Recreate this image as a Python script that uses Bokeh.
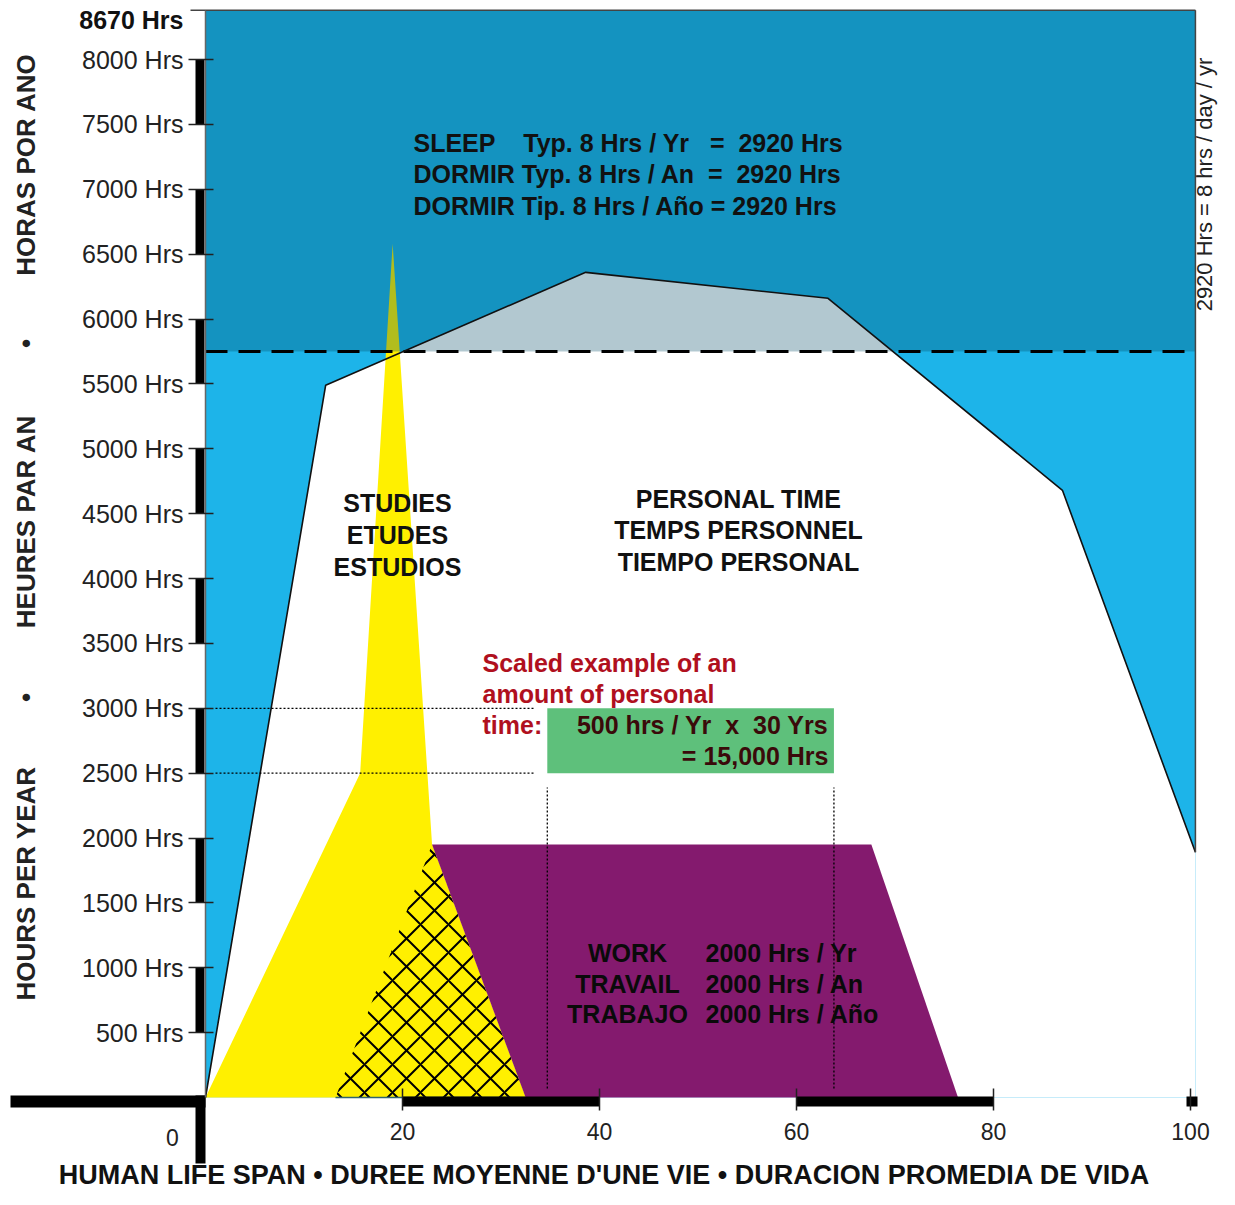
import numpy as np
from bokeh.plotting import figure
from bokeh.models import Range1d, LinearAxis, FixedTicker, PrintfTickFormatter
from bokeh.core.properties import value
from bokeh.embed import file_html
from bokeh.resources import INLINE

# ---------------- data ----------------
awake_age = [0, 12.2, 38.6, 63.2, 87.0, 100.5]
awake_hours = [0, 5490, 6360, 6160, 4680, 1890]

year_hours = 8670
sleep_hours = 2920
sleep_floor = year_hours - sleep_hours          # 5750

study_age = [0, 15.7, 19.0, 23.0, 32.5]
study_hours = [0, 2500, 6580, 1950, 0]

shared_age = [13.2, 23.0, 32.5]                 # studies + work overlap (hatched)
shared_hours = [0, 1950, 0]

work_age = [23.0, 67.6, 76.4, 32.5]
work_hours = [1950, 1950, 0, 0]

example_age = [34.7, 63.8]                      # 30 years
example_hours = [2500, 3000]                    # 500 hrs / yr

y_ticks = [500, 1000, 1500, 2000, 2500, 3000, 3500, 4000,
           4500, 5000, 5500, 6000, 6500, 7000, 7500, 8000]
x_ticks = [20, 40, 60, 80, 100]

chart_right = 100.5
chart_top = 8380

# ---------------- layout helpers (picture pixels -> data) ----------------
X0_PX, PX_PER_YEAR = 205.0, 9.85
Y0_PX, PX_PER_HOUR = 1097.0, 0.12974


def px_x(px):
    return (px - X0_PX) / PX_PER_YEAR


def px_y(py):
    return (Y0_PX - py) / PX_PER_HOUR


LIGHT_BLUE = "#1DB4E9"
SLEEP_TINT = "#004862"
YELLOW = "#FFF000"
PURPLE = "#841A6E"
GREEN = "#5EC07B"
RED = "#B0101E"
FONT = value("Liberation Sans")
NB = "\u00a0"

W, H = 1219, 1189
p = figure(width=W, height=H, output_backend="svg", toolbar_location=None,
           x_range=Range1d(px_x(0), px_x(W)), y_range=Range1d(px_y(H), px_y(0)),
           x_axis_type=None, y_axis_type=None, min_border=0)
p.outline_line_color = None
p.grid.visible = False
p.background_fill_color = "white"
p.border_fill_color = "white"

# background of the year box (awake, not used)
p.quad(left=0, right=chart_right, bottom=0, top=chart_top, fill_color=LIGHT_BLUE, line_color=None)

# personal-time area under the awake curve
p.patch(awake_age + [chart_right], awake_hours + [0], fill_color="white", line_color=None)

# studies
p.patch(study_age, study_hours, fill_color=YELLOW, line_color=None)
p.patch(shared_age, shared_hours, fill_color=YELLOW, line_color=None,
        hatch_pattern="x", hatch_color="black", hatch_weight=2, hatch_scale=28)
p.line([shared_age[0], shared_age[-1]], [0, 0], line_color="#2F6470", line_width=1.5)

# work
p.patch(work_age, work_hours, fill_color=PURPLE, line_color=None)

# sleep band (semi-transparent tint over everything below)
p.quad(left=0, right=chart_right, bottom=sleep_floor, top=chart_top,
       fill_color=SLEEP_TINT, fill_alpha=0.3, line_color=None)
p.line([0, chart_right], [sleep_floor, sleep_floor], line_color="black", line_width=3,
       line_dash="22 11")

# awake curve outline and box borders
p.line(awake_age, awake_hours, line_color="#111111", line_width=1.6)
p.line([chart_right, chart_right], [awake_hours[-1], chart_top], line_color="#444444", line_width=1.5)
p.line([px_x(190), chart_right], [chart_top, chart_top], line_color="#444444", line_width=1.5)

# scaled example
p.quad(left=example_age[0], right=example_age[1], bottom=example_hours[0], top=example_hours[1],
       fill_color=GREEN, line_color=None)
p.segment(x0=[px_x(215)] * 2, x1=[px_x(533)] * 2, y0=example_hours, y1=example_hours,
          line_color="black", line_width=1.2, line_dash="2 2")
p.segment(x0=example_age, x1=example_age, y0=[px_y(1088)] * 2, y1=[px_y(787)] * 2,
          line_color="black", line_width=1.3, line_dash="2 2")

# ---------------- axes ----------------
yax = LinearAxis(fixed_location=0, ticker=FixedTicker(ticks=y_ticks),
                 formatter=PrintfTickFormatter(format="%d Hrs"), bounds=(0, chart_top))
yax.axis_line_color = "#666666"
yax.axis_line_width = 1.5
yax.major_tick_in = 8
yax.major_tick_out = 17
yax.major_tick_line_color = "#222222"
yax.major_tick_line_width = 1.5
yax.minor_tick_line_color = None
yax.major_label_standoff = 5
yax.major_label_text_font = "Liberation Sans"
yax.major_label_text_font_size = "25px"
yax.major_label_text_color = "#222222"
p.add_layout(yax, "left")

xax = LinearAxis(fixed_location=0, ticker=FixedTicker(ticks=x_ticks))
xax.axis_line_color = None
xax.major_tick_in = 9
xax.major_tick_out = 13
xax.major_tick_line_color = "#222222"
xax.major_tick_line_width = 1.5
xax.minor_tick_line_color = None
xax.major_label_standoff = 12
xax.major_label_text_font = "Liberation Sans"
xax.major_label_text_font_size = "23px"
xax.major_label_text_color = "#222222"
p.add_layout(xax, "below")

# alternating scale bars along the axes
bar_lo = y_ticks[0::2]
bar_hi = y_ticks[1::2]
p.segment(x0=[px_x(199.5)] * len(bar_lo), x1=[px_x(199.5)] * len(bar_lo), y0=bar_lo, y1=bar_hi,
          line_color="black", line_width=9, line_cap="butt")
p.segment(x0=[px_x(10), x_ticks[0], x_ticks[2], px_x(1186)],
          x1=[0, x_ticks[1], x_ticks[3], px_x(1197)],
          y0=[px_y(1101)] * 4, y1=[px_y(1101)] * 4,
          line_color="black", line_width=[12, 10, 10, 10], line_cap="butt")
p.segment(x0=[px_x(200)], x1=[px_x(200)], y0=[px_y(1095)], y1=[px_y(1163)],
          line_color="black", line_width=10, line_cap="butt")


# ---------------- texts ----------------
def add_text(xs, ys, texts, size="25px", bold=True, color="#111111", align="left", angle=0.0):
    p.text(x=xs, y=ys, text=texts, text_font=FONT, text_font_size=size,
           text_font_style="bold" if bold else "normal", text_color=color,
           text_align=align, text_baseline="middle", angle=angle)


add_text([px_x(183)], [px_y(19)], ["8670 Hrs"], size="25px", align="right")
add_text([px_x(172)], [px_y(1137)], ["0"], size="23px", bold=False, color="#222222", align="center")

sleep_lines = [
    "SLEEP" + NB * 4 + "Typ. 8 Hrs / Yr" + NB * 3 + "=" + NB * 2 + "2920 Hrs",
    "DORMIR Typ. 8 Hrs / An" + NB * 2 + "=" + NB * 2 + "2920 Hrs",
    "DORMIR Tip. 8 Hrs / Año = 2920 Hrs",
]
add_text([px_x(413)] * 3, [px_y(142), px_y(173), px_y(205)], sleep_lines)

add_text([px_x(397)] * 3, [px_y(502), px_y(534), px_y(566)],
         ["STUDIES", "ETUDES", "ESTUDIOS"], align="center")
add_text([px_x(738)] * 3, [px_y(498), px_y(529), px_y(561)],
         ["PERSONAL TIME", "TEMPS PERSONNEL", "TIEMPO PERSONAL"], align="center")

add_text([px_x(482)] * 3, [px_y(662), px_y(693), px_y(724)],
         ["Scaled example of an", "amount of personal", "time:"], color=RED)
add_text([px_x(828)] * 2, [px_y(724), px_y(755)],
         ["500 hrs / Yr" + NB * 2 + "x" + NB * 2 + "30 Yrs", "= 15,000 Hrs"],
         color="#3A0A0A", align="right")

add_text([px_x(627)] * 3, [px_y(952), px_y(983), px_y(1013)],
         ["WORK", "TRAVAIL", "TRABAJO"], color="#0A0A0A", align="center")
add_text([px_x(705)] * 3, [px_y(952), px_y(983), px_y(1013)],
         ["2000 Hrs / Yr", "2000 Hrs / An", "2000 Hrs / Año"], color="#0A0A0A")

add_text([px_x(1204)], [px_y(184)], ["2920 Hrs = 8 hrs / day / yr"], size="22px",
         bold=False, color="#222222", align="center", angle=np.pi / 2)

add_text([px_x(25)] * 5, [px_y(883), px_y(697), px_y(521), px_y(343), px_y(164)],
         ["HOURS PER YEAR", "•", "HEURES PAR AN", "•", "HORAS POR ANO"],
         size="26px", color="#222222", align="center", angle=np.pi / 2)

add_text([px_x(604)], [px_y(1174)],
         ["HUMAN LIFE SPAN • DUREE MOYENNE D'UNE VIE • DURACION PROMEDIA DE VIDA"],
         size="27px", color="#111111", align="center")

open("out.html", "w").write(file_html(p, INLINE))
